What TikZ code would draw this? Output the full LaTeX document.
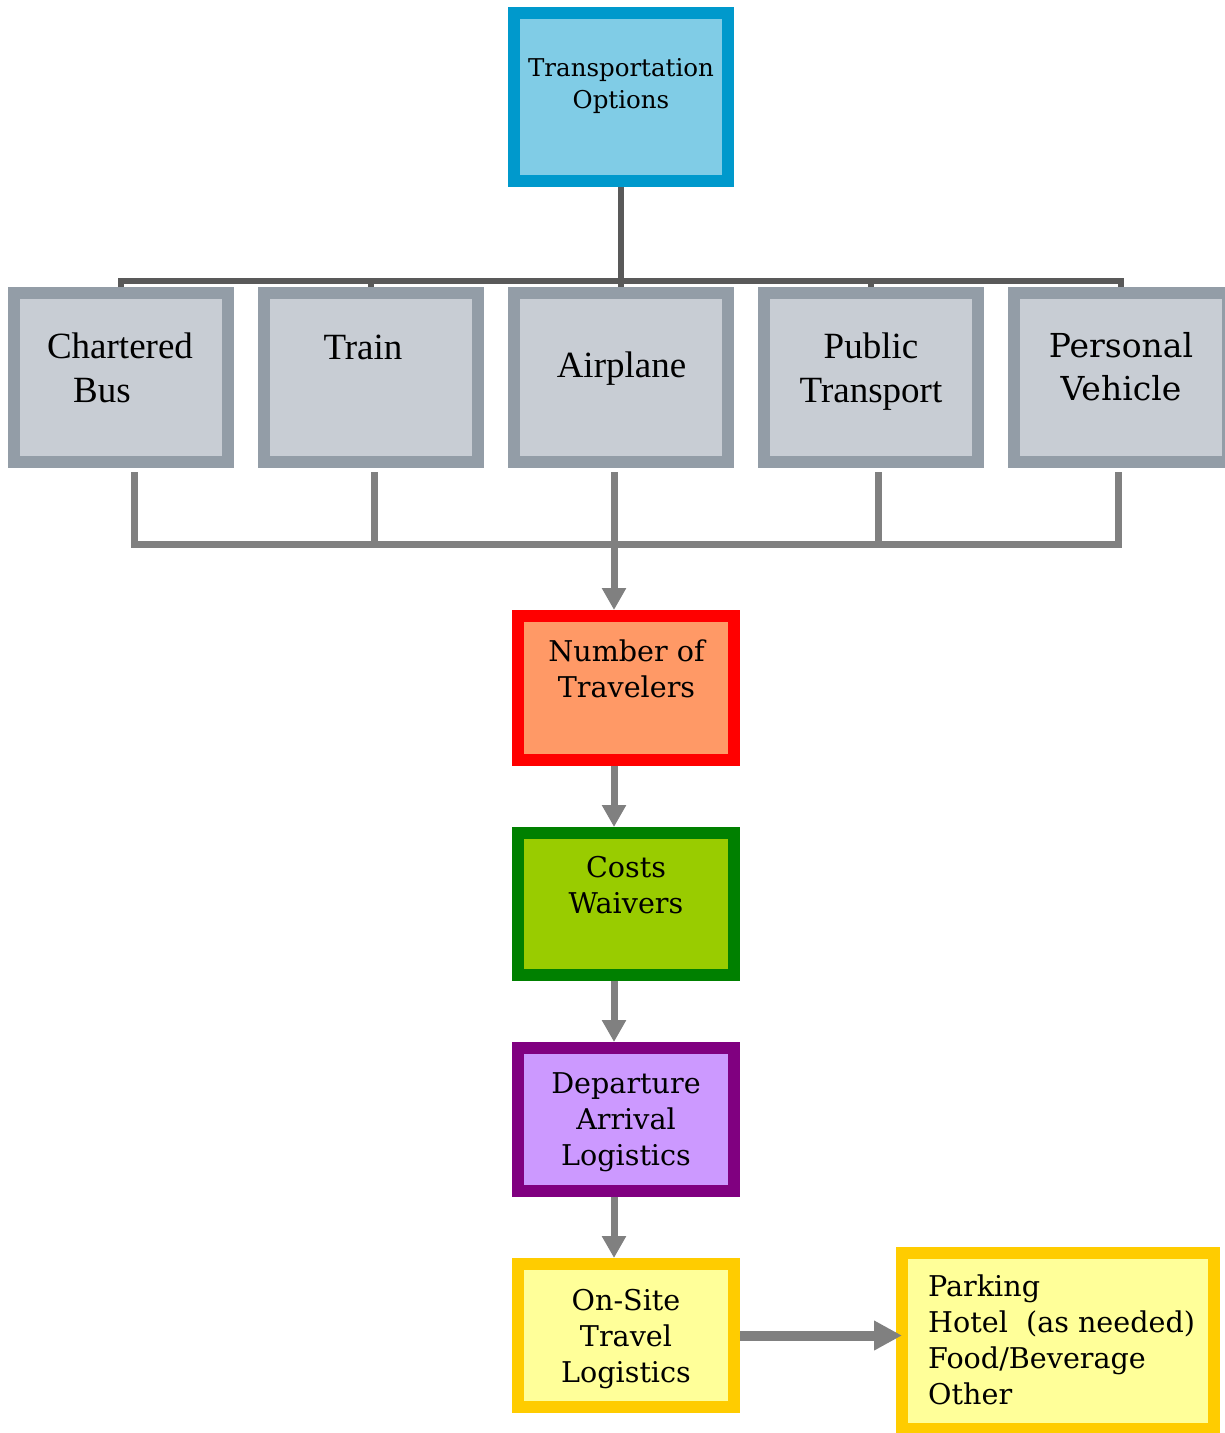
\documentclass[tikz,border=0pt]{standalone}
\usepackage{fontspec}
\setmainfont{DejaVu Serif}
\newfontfamily\tfont{Liberation Serif}
\usetikzlibrary{arrows.meta}
\definecolor{topB}{HTML}{0099CC}
\definecolor{topF}{HTML}{80CCE6}
\definecolor{grayB}{HTML}{939DA7}
\definecolor{grayF}{HTML}{C8CDD4}
\definecolor{redB}{HTML}{FF0000}
\definecolor{redF}{HTML}{FF9966}
\definecolor{grnB}{HTML}{008000}
\definecolor{grnF}{HTML}{99CC00}
\definecolor{purB}{HTML}{800080}
\definecolor{purF}{HTML}{CC99FF}
\definecolor{yelB}{HTML}{FFCC00}
\definecolor{yelF}{HTML}{FFFF99}
\definecolor{darkline}{HTML}{595959}
\definecolor{midline}{HTML}{808080}
\begin{document}
\begin{tikzpicture}[x=1pt,y=-1pt,
  box/.style={draw, rectangle, line width=12pt, inner sep=0pt, outer sep=6pt},
  graybox/.style={box, draw=grayB, fill=grayF, minimum width=214pt, minimum height=169pt},
  midbox/.style={box, minimum width=216pt, minimum height=143pt},
  txt/.style={anchor=base, align=center, inner sep=0pt, text=black},
  toptxt/.style={txt, font=\fontsize{24.5}{31.5}\selectfont},
  graytxt/.style={txt, font=\tfont\fontsize{37}{44}\selectfont},
  lowtxt/.style={txt, font=\fontsize{28.6}{36}\selectfont},
  tline/.style={draw=darkline, line width=6pt},
  bline/.style={draw=midline, line width=7pt},
  varrow/.style={bline, -{Triangle[width=23pt,length=22pt]}},
  harrow/.style={draw=midline, line width=10pt, -{Triangle[width=28pt,length=28pt]}}
]
\useasboundingbox (0,0) rectangle (1225,1433);

% boxes
\node[box, draw=topB, fill=topF, minimum width=214pt, minimum height=168pt] (top) at (621,97) {};
\node[graybox] (bus) at (121,377.5) {};
\node[graybox] (train) at (371,377.5) {};
\node[graybox] (air) at (621,377.5) {};
\node[graybox] (pub) at (871,377.5) {};
\node[graybox] (pv) at (1121,377.5) {};
\node[midbox, draw=redB, fill=redF, minimum height=144pt] (num) at (626,688) {};
\node[midbox, draw=grnB, fill=grnF, minimum height=142pt] (cost) at (626,904) {};
\node[midbox, draw=purB, fill=purF] (dep) at (626,1119.5) {};
\node[midbox, draw=yelB, fill=yelF] (site) at (626,1335.5) {};
\node[box, draw=yelB, fill=yelF, minimum width=312pt, minimum height=176pt] (rt) at (1058,1341) {};

% texts (anchored at the baseline of the last line)
\node[toptxt] (ttop) at (621,108) {Transportation\\Options};
\node[graytxt] (tbus) at (120,402) {Chartered\\Bus\hspace*{36pt}};
\node[graytxt] (ttrain) at (363,359) {Train};
\node[graytxt] (tair) at (621.5,377) {Airplane};
\node[graytxt] (tpub) at (871,402) {Public\\Transport};
\node[txt, font=\fontsize{33}{43}\selectfont] (tpv) at (1121,400) {Personal\\Vehicle};
\node[lowtxt] (tnum) at (626.5,697) {Number of\\Travelers};
\node[lowtxt] (tcost) at (626,913) {Costs\\Waivers};
\node[lowtxt] (tdep) at (626,1165) {Departure\\Arrival\\Logistics};
\node[lowtxt] (tsite) at (626,1382) {On-Site\\Travel\\Logistics};
\node[lowtxt, anchor=base west, align=left] (trt) at (928,1404) {Parking\\Hotel~ (as needed)\\Food/Beverage\\Other};

% top connectors
\coordinate (hb) at (621,281);
\draw[tline] (top.south) -- (air.north);
\draw[tline] (bus.north) -- (bus.north |- hb) -- (pv.north |- hb) -- (pv.north);
\draw[tline] (train.north |- hb) -- (train.north);
\draw[tline] (pub.north |- hb) -- (pub.north);

% bottom connectors
\coordinate (d1) at (134,472);
\coordinate (d2) at (374,472);
\coordinate (d3) at (614,472);
\coordinate (d4) at (878,472);
\coordinate (d5) at (1118,472);
\coordinate (jb) at (614,544);
\draw[bline] (d1) -- (d1 |- jb) -- (d5 |- jb) -- (d5);
\draw[bline] (d2) -- (d2 |- jb);
\draw[bline] (d4) -- (d4 |- jb);
\draw[varrow] (d3) -- (num.north -| d3);
\draw[varrow] (num.south -| d3) -- (cost.north -| d3);
\draw[varrow] (cost.south -| d3) -- (dep.north -| d3);
\draw[varrow] (dep.south -| d3) -- (site.north -| d3);
\draw[harrow, shorten >=-6pt] (site.east) -- (rt.west |- site.east);
\end{tikzpicture}
\end{document}
